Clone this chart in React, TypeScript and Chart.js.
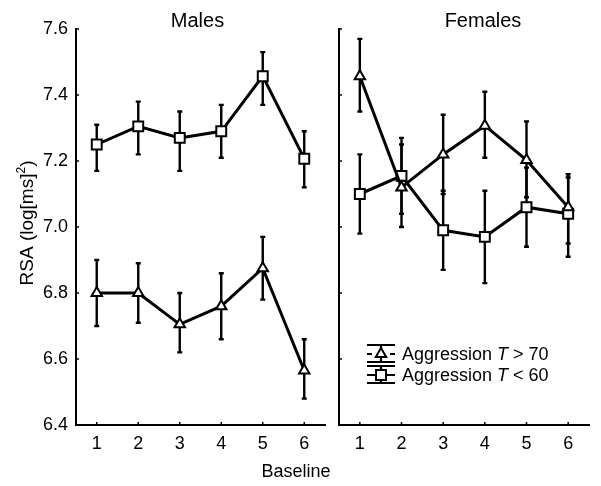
import React, { useEffect, useRef } from "react";
import { Chart, registerables } from "chart.js";

Chart.register(...registerables);

const baselines = ["1", "2", "3", "4", "5", "6"];
const yTicks = [6.4, 6.6, 6.8, 7.0, 7.2, 7.4, 7.6];

const malesHigh = [6.8, 6.8, 6.705, 6.76, 6.875, 6.565];
const malesHighUpper = [6.9, 6.89, 6.8, 6.86, 6.97, 6.66];
const malesHighLower = [6.7, 6.71, 6.62, 6.66, 6.78, 6.48];

const malesLow = [7.25, 7.305, 7.27, 7.29, 7.457, 7.207];
const malesLowUpper = [7.31, 7.38, 7.35, 7.37, 7.53, 7.29];
const malesLowLower = [7.17, 7.22, 7.17, 7.21, 7.37, 7.12];

const femalesHigh = [7.457, 7.12, 7.22, 7.307, 7.203, 7.06];
const femalesHighUpper = [7.57, 7.25, 7.34, 7.41, 7.32, 7.16];
const femalesHighLower = [7.35, 7.0, 7.1, 7.21, 7.09, 6.95];

const femalesLow = [7.1, 7.155, 6.99, 6.97, 7.06, 7.04];
const femalesLowUpper = [7.22, 7.27, 7.11, 7.11, 7.18, 7.15];
const femalesLowLower = [6.98, 7.04, 6.87, 6.83, 6.94, 6.91];

const FONT = "'Liberation Sans', Arial, sans-serif";
const FS = 18;

const errorBarPlugin = {
  id: "errbars",
  beforeDatasetsDraw(chart: any) {
    const ctx = chart.ctx;
    const ys = chart.scales.y;
    ctx.save();
    ctx.strokeStyle = "#000";
    ctx.lineWidth = 2.4;
    chart.data.datasets.forEach((ds: any, i: number) => {
      const meta = chart.getDatasetMeta(i);
      if (!ds.errUpper) return;
      meta.data.forEach((pt: any, j: number) => {
        const yu = ys.getPixelForValue(ds.errUpper[j]);
        const yl = ys.getPixelForValue(ds.errLower[j]);
        ctx.beginPath();
        ctx.moveTo(pt.x, yu);
        ctx.lineTo(pt.x, yl);
        ctx.moveTo(pt.x - 2.5, yu);
        ctx.lineTo(pt.x + 2.5, yu);
        ctx.moveTo(pt.x - 2.5, yl);
        ctx.lineTo(pt.x + 2.5, yl);
        ctx.stroke();
      });
    });
    ctx.restore();
  },
};

function drawMarker(ctx: any, style: string, x: number, y: number) {
  ctx.save();
  ctx.fillStyle = "#fff";
  ctx.strokeStyle = "#000";
  ctx.lineWidth = 2;
  ctx.beginPath();
  if (style === "rect") {
    ctx.rect(x - 5, y - 5, 10, 10);
  } else {
    const r = 6;
    ctx.moveTo(x, y - r);
    ctx.lineTo(x + r * 0.866, y + r * 0.5);
    ctx.lineTo(x - r * 0.866, y + r * 0.5);
    ctx.closePath();
  }
  ctx.fill();
  ctx.stroke();
  ctx.restore();
}

const decorPlugin = {
  id: "decor",
  afterDraw(chart: any, _args: any, opts: any) {
    const ctx = chart.ctx;
    const { left, right, top, bottom } = chart.chartArea;
    const xs = chart.scales.x;
    const ys = chart.scales.y;
    ctx.save();
    // inward ticks
    ctx.strokeStyle = "#000";
    ctx.lineWidth = 1.5;
    ctx.beginPath();
    xs.ticks.forEach((_t: any, i: number) => {
      const px = xs.getPixelForTick(i);
      ctx.moveTo(px, bottom);
      ctx.lineTo(px, bottom - 3);
    });
    ys.ticks.forEach((_t: any, i: number) => {
      const py = ys.getPixelForTick(i);
      ctx.moveTo(left, py);
      ctx.lineTo(left + 3, py);
    });
    ctx.stroke();

    // panel title
    ctx.fillStyle = "#000";
    ctx.font = `20px ${FONT}`;
    ctx.textAlign = "center";
    ctx.textBaseline = "alphabetic";
    ctx.fillText(opts.title, (left + right) / 2 + opts.titleDx, top - 2);

    if (opts.axisTitles) {
      ctx.font = `${FS}px ${FONT}`;
      ctx.textAlign = "center";
      ctx.fillText("Baseline", 296, 477);
      // y title with superscript
      ctx.save();
      ctx.translate(33, 223);
      ctx.rotate(-Math.PI / 2);
      ctx.textAlign = "left";
      const a = "RSA (log[ms]";
      const b = "2";
      const c = ")";
      const yf = 19;
      ctx.font = `${yf}px ${FONT}`;
      const wa = ctx.measureText(a).width;
      ctx.font = `12px ${FONT}`;
      const wb = ctx.measureText(b).width;
      ctx.font = `${yf}px ${FONT}`;
      const wc = ctx.measureText(c).width;
      const total = wa + wb + wc;
      const x0 = -total / 2;
      ctx.fillText(a, x0, 0);
      ctx.font = `12px ${FONT}`;
      ctx.fillText(b, x0 + wa, -8);
      ctx.font = `${yf}px ${FONT}`;
      ctx.fillText(c, x0 + wa + wb, 0);
      ctx.restore();
    }

    if (opts.legend) {
      const rows = [
        { style: "tri", dashed: true, cmp: ">", num: "70", cy: 354 },
        { style: "rect", dashed: false, cmp: "<", num: "60", cy: 375 },
      ];
      rows.forEach((r) => {
        const sx = 381 - 330 + left - 9;
        ctx.strokeStyle = "#000";
        ctx.beginPath();
        ctx.moveTo(sx - 14, r.cy - 9);
        ctx.lineTo(sx + 14, r.cy - 9);
        ctx.moveTo(sx - 14, r.cy + 8);
        ctx.lineTo(sx + 14, r.cy + 8);
        ctx.moveTo(sx, r.cy - 9);
        ctx.lineTo(sx, r.cy + 8);
        if (r.dashed) {
          ctx.moveTo(sx - 14, r.cy);
          ctx.lineTo(sx - 9, r.cy);
          ctx.moveTo(sx + 9, r.cy);
          ctx.lineTo(sx + 14, r.cy);
        } else {
          ctx.moveTo(sx - 14, r.cy);
          ctx.lineTo(sx + 14, r.cy);
        }
        ctx.lineWidth = 2.2;
        ctx.stroke();
        drawMarker(ctx, r.style, sx, r.cy);
        ctx.fillStyle = "#000";
        ctx.textAlign = "left";
        ctx.textBaseline = "alphabetic";
        let tx = sx + 21;
        const ty = r.cy + 6;
        ctx.font = `${FS}px ${FONT}`;
        const p1 = "Aggression ";
        ctx.fillText(p1, tx, ty);
        tx += ctx.measureText(p1).width;
        ctx.font = `italic ${FS}px ${FONT}`;
        ctx.fillText("T", tx, ty);
        tx += ctx.measureText("T").width;
        ctx.font = `${FS}px ${FONT}`;
        ctx.fillText(` ${r.cmp} ${r.num}`, tx, ty);
      });
    }
    ctx.restore();
  },
};

function makeConfig(
  high: number[],
  highU: number[],
  highL: number[],
  low: number[],
  lowU: number[],
  lowL: number[],
  left: boolean
): any {
  return {
    type: "line",
    data: {
      labels: baselines,
      datasets: [
        {
          label: "Aggression T > 70",
          data: high,
          errUpper: highU,
          errLower: highL,
          borderColor: "#000",
          borderWidth: 3,
          pointStyle: "triangle",
          pointRadius: 6,
          pointBorderWidth: 2,
          pointBackgroundColor: "#fff",
          pointBorderColor: "#000",
          tension: 0,
        },
        {
          label: "Aggression T < 60",
          data: low,
          errUpper: lowU,
          errLower: lowL,
          borderColor: "#000",
          borderWidth: 3,
          pointStyle: "rect",
          pointRadius: 7,
          pointBorderWidth: 2,
          pointBackgroundColor: "#fff",
          pointBorderColor: "#000",
          tension: 0,
        },
      ],
    },
    options: {
      responsive: false,
      animation: false,
      events: [],
      layout: {
        padding: left
          ? { left: 0, top: 29, right: 276, bottom: 0 }
          : { left: 330, top: 29, right: 12, bottom: 0 },
      },
      plugins: {
        legend: { display: false },
        tooltip: { enabled: false },
        decor: {
          title: left ? "Males" : "Females",
          titleDx: left ? -3 : 19,
          axisTitles: left,
          legend: !left,
        },
      },
      scales: {
        x: {
          type: "category",
          offset: true,
          grid: { display: false, drawTicks: false },
          border: { display: true, color: "#000", width: 2 },
          ticks: {
            color: "#000",
            font: { family: FONT, size: FS },
            padding: 8,
          },
          afterFit: (s: any) => {
            s.height = 61;
          },
        },
        y: {
          type: "linear",
          min: 6.4,
          max: 7.6,
          afterBuildTicks: (s: any) => {
            s.ticks = yTicks.map((v) => ({ value: v }));
          },
          grid: { display: false, drawTicks: false },
          border: { display: true, color: "#000", width: 2 },
          ticks: {
            display: left,
            color: "#000",
            font: { family: FONT, size: FS },
            padding: 8,
            callback: (v: any) => Number(v).toFixed(1),
          },
          afterFit: (s: any) => {
            s.width = left ? 76 : 9;
          },
        },
      },
    },
    plugins: [errorBarPlugin, decorPlugin],
  };
}

export default function App() {
  const leftRef = useRef<HTMLCanvasElement | null>(null);
  const rightRef = useRef<HTMLCanvasElement | null>(null);

  useEffect(() => {
    const c1 = new Chart(
      leftRef.current as HTMLCanvasElement,
      makeConfig(malesHigh, malesHighUpper, malesHighLower, malesLow, malesLowUpper, malesLowLower, true)
    );
    const c2 = new Chart(
      rightRef.current as HTMLCanvasElement,
      makeConfig(femalesHigh, femalesHighUpper, femalesHighLower, femalesLow, femalesLowUpper, femalesLowLower, false)
    );
    return () => {
      c1.destroy();
      c2.destroy();
    };
  }, []);

  const cs: React.CSSProperties = { position: "absolute", left: 0, top: 0, display: "block" };
  return (
    <div style={{ position: "absolute", left: 0, top: 0, width: 601, height: 486, background: "#fff" }}>
      <canvas ref={leftRef} width={601} height={486} style={cs} />
      <canvas ref={rightRef} width={601} height={486} style={cs} />
    </div>
  );
}
